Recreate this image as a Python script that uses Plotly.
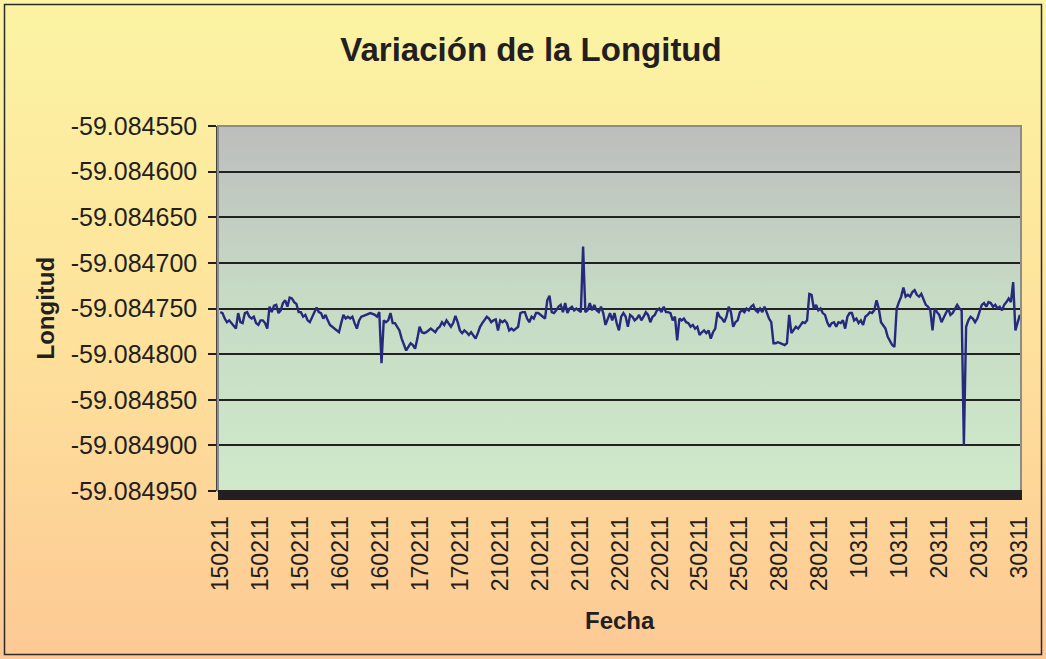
import base64
import plotly.graph_objects as go

# Longitud registrada (-59.084xxx): se guardan las millonésimas xxx de cada lectura
longitud_millonesimas = [
    # 150211 - 160211
    754, 755, 761, 765, 763, 766, 770, 772, 755, 765, 766, 755, 754, 759, 761, 759, 766, 768, 763, 763,
    766, 772, 748, 754, 747, 746, 755, 752, 744, 741, 748, 738, 739, 743, 745, 754, 754, 759, 757, 763,
    765, 759, 754, 749, 754, 755, 761, 757, 763, 768, 770, 772, 774, 776, 766, 757, 761, 759, 761, 759,
    766, 772, 763, 759, 758, 757, 756, 755, 756, 757,
    # 160211 - 210211
    759, 754, 810, 763, 765, 763, 755, 766, 766, 770, 774, 783, 790, 796, 792, 788, 790, 794, 783, 770,
    776, 777, 776, 774, 772, 774, 776, 772, 770, 765, 768, 763, 766, 770, 766, 758, 765, 774, 777, 774,
    776, 779, 776, 779, 783, 777, 770, 766, 763, 759, 761, 765, 763, 762, 774, 763, 765, 763, 766, 774,
    772, 774, 772, 770, 755, 754, 754, 761, 765, 759, 761, 755, 755,
    # 210211 - 250211
    757, 759, 761, 741, 736, 754, 755, 752, 748, 746, 754, 744, 755, 750, 748, 752, 750, 752, 754, 682,
    754, 752, 744, 752, 746, 752, 754, 748, 755, 768, 761, 755, 763, 755, 766, 774, 759, 755, 759, 770,
    757, 759, 763, 761, 757, 763, 759, 754, 757, 765, 759, 757, 752, 750, 754, 748, 754, 754, 755, 763,
    759, 785, 761, 763, 761, 765, 766, 770, 768, 772, 770, 779, 776,
    # 250211 - 10311
    774, 777, 774, 783, 776, 772, 754, 759, 761, 765, 759, 748, 754, 770, 765, 763, 754, 752, 754, 750,
    752, 748, 746, 752, 754, 750, 754, 748, 755, 761, 765, 788, 788, 787, 788, 789, 790, 788, 757, 777,
    774, 770, 772, 768, 765, 766, 763, 734, 735, 750, 746, 752, 750, 755, 757, 765, 770, 766, 765, 770,
    765, 766, 763, 772, 759, 755, 755, 763, 761, 766, 763,
    # 10311 - 30311
    768, 759, 757, 754, 755, 752, 741, 750, 765, 768, 772, 781, 785, 790, 792, 750, 743, 737, 727, 737,
    735, 737, 732, 730, 735, 737, 734, 741, 746, 748, 752, 774, 750, 754, 757, 765, 759, 755, 750, 757,
    755, 750, 746, 750, 752, 900, 770, 763, 759, 761, 765, 761, 754, 746, 744, 748, 743, 744, 748, 746,
    750, 748, 752, 746, 743, 739, 743, 721, 774, 766, 757,
]

fechas_eje = [
    "150211", "150211", "150211", "160211", "160211", "170211", "170211",
    "210211", "210211", "210211", "220211", "220211", "250211", "250211",
    "280211", "280211", "10311", "10311", "20311", "20311", "30311",
]

valores_eje_y = [-59.08495, -59.0849, -59.08485, -59.0848, -59.08475,
                 -59.0847, -59.08465, -59.0846, -59.08455]
etiquetas_eje_y = ["-59.084950", "-59.084900", "-59.084850", "-59.084800", "-59.084750",
                   "-59.084700", "-59.084650", "-59.084600", "-59.084550"]

longitud = [-59.084 - m / 1e6 for m in longitud_millonesimas]
muestra = list(range(len(longitud)))
n = len(longitud)
pos_fechas = [i * (n - 1) / (len(fechas_eje) - 1) for i in range(len(fechas_eje))]

W, H = 1046, 659
ML, MR, MT, MB = 218, 25, 126, 168
PW, PH = W - ML - MR, H - MT - MB


def gradiente(stops):
    svg = (
        '<svg xmlns="http://www.w3.org/2000/svg" width="100" height="100" '
        'viewBox="0 0 100 100" preserveAspectRatio="none">'
        '<defs><linearGradient id="g" x1="0" y1="0" x2="0" y2="1">'
        + "".join(f'<stop offset="{o}" stop-color="{c}"/>' for o, c in stops)
        + '</linearGradient></defs><rect width="100" height="100" fill="url(#g)"/></svg>'
    )
    return "data:image/svg+xml;base64," + base64.b64encode(svg.encode()).decode()


fondo_hoja = gradiente([(0, "#FBF4A3"), (0.5, "#FEE29B"), (1, "#FDC995")])
fondo_grafico = gradiente([(0, "#BDBDBD"), (0.45, "#C6DAC4"), (1, "#CFE9CA")])

fig = go.Figure()
fig.add_trace(go.Scatter(
    x=muestra, y=longitud, mode="lines",
    line=dict(color="#262A7C", width=2.4),
    hoverinfo="y",
))

fuente = "Liberation Sans, Arial, sans-serif"

fig.update_layout(
    width=W, height=H,
    margin=dict(l=ML, r=MR, t=MT, b=MB),
    paper_bgcolor="#FDE3A0",
    plot_bgcolor="rgba(0,0,0,0)",
    showlegend=False,
    title=dict(
        text="Variación de la Longitud",
        font=dict(family=fuente, size=33, color="#231F20", weight="bold"),
        x=531 / W, xref="container", xanchor="center",
        y=1 - 49 / H, yref="container", yanchor="middle",
    ),
    xaxis=dict(
        range=[-1, n - 0.5],
        tickmode="array", tickvals=pos_fechas, ticktext=fechas_eje,
        tickangle=-90,
        tickfont=dict(family=fuente, size=23, color="#231F20"),
        ticks="outside", ticklen=8, tickcolor="#231F20",
        ticklabelstandoff=7,
        showgrid=False, zeroline=False, showline=False,
    ),
    yaxis=dict(
        range=[-59.08495, -59.08455],
        tickmode="array", tickvals=valores_eje_y, ticktext=etiquetas_eje_y,
        tickfont=dict(family=fuente, size=25, color="#231F20"),
        ticks="outside", ticklen=8, tickwidth=1.5, tickcolor="#231F20",
        ticklabelstandoff=6,
        showgrid=True, gridcolor="#222222", gridwidth=1.5,
        zeroline=False,
        showline=True, linecolor="#444444", linewidth=1.5,
    ),
    images=[
        dict(source=fondo_hoja, xref="paper", yref="paper",
             x=-ML / PW, y=1 + MT / PH, sizex=W / PW, sizey=H / PH,
             xanchor="left", yanchor="top", sizing="stretch", layer="below"),
        dict(source=fondo_grafico, xref="paper", yref="paper",
             x=0, y=1, sizex=1, sizey=1,
             xanchor="left", yanchor="top", sizing="stretch", layer="below"),
    ],
    shapes=[
        # marco del área de trazado
        dict(type="rect", xref="paper", yref="paper", x0=0, x1=1, y0=0, y1=1,
             line=dict(color="#8C8C8C", width=2), fillcolor="rgba(0,0,0,0)", layer="above"),
        # suelo oscuro bajo el eje de categorías
        dict(type="rect", xref="x domain", yref="y domain",
             x0=0, x1=1 + 1 / PW, y0=0.003, y1=-9 / PH,
             line=dict(width=0), fillcolor="#231F20", layer="above"),
        # borde exterior del gráfico
        dict(type="rect", xref="paper", yref="paper",
             x0=(4.5 - ML) / PW, x1=(W - 4.5 - ML) / PW,
             y0=(PH + MT - (H - 4.5)) / PH, y1=(PH + MT - 4.5) / PH,
             line=dict(color="#2B2B2B", width=1.5), fillcolor="rgba(0,0,0,0)", layer="above"),
    ],
    annotations=[
        dict(text="Longitud", xref="paper", yref="paper", x=0, y=0.5,
             xshift=-(ML - 45), textangle=-90, showarrow=False,
             xanchor="center", yanchor="middle",
             font=dict(family=fuente, size=24, color="#231F20", weight="bold")),
        dict(text="Fecha", xref="paper", yref="paper", x=0.5, y=0,
             yshift=-(620 - (MT + PH)), showarrow=False,
             xanchor="center", yanchor="middle",
             font=dict(family=fuente, size=24, color="#231F20", weight="bold")),
    ],
)

fig.write_html("out.html")
